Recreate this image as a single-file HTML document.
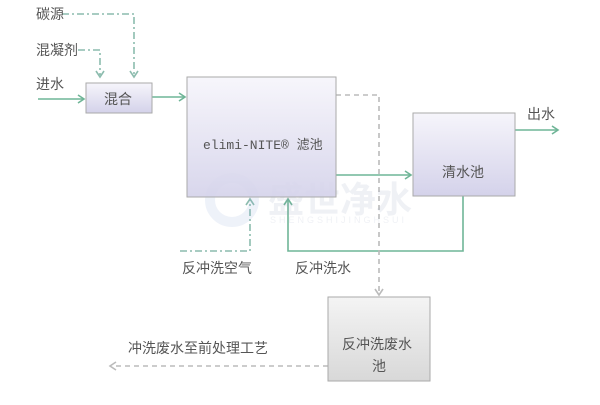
<!DOCTYPE html>
<html><head><meta charset="utf-8"><style>
body{margin:0;width:600px;height:400px;background:#fff;overflow:hidden}
svg text{font-family:"Liberation Sans","Noto Sans CJK SC",sans-serif;fill:#555}
</style></head><body>
<svg width="600" height="400" viewBox="0 0 600 400">
<defs>
<linearGradient id="g" x1="0" y1="0" x2="0" y2="1"><stop offset="0" stop-color="#f6f5fb"/><stop offset="1" stop-color="#d4d2ea"/></linearGradient>
<linearGradient id="gg" x1="0" y1="0" x2="0" y2="1"><stop offset="0" stop-color="#f4f4f4"/><stop offset="1" stop-color="#d8d8d8"/></linearGradient>
</defs>
<g fill="none" stroke-width="1.6">
<g stroke="#6fb597">
<line x1="38" y1="99" x2="84" y2="99"/><polyline points="78,95 84,99 78,103"/>
<line x1="152" y1="97" x2="185" y2="97"/><polyline points="179,93 185,97 179,101"/>
<line x1="336" y1="175" x2="411" y2="175"/><polyline points="405,171 411,175 405,179"/>
<line x1="515" y1="130" x2="558" y2="130"/><polyline points="552,126 558,130 552,134"/>
<polyline points="463,196 463,251 288,251 288,199"/><polyline points="284,205 288,199 292,205"/>
</g>
<g stroke="#8cbcae" stroke-dasharray="7,3,2,3">
<polyline points="62,14 134,14 134,75"/>
<polyline points="78,50 100,50 100,75"/>
<polyline points="180,251 250,251 250,200"/>
</g>
<g stroke="#8cbcae"><polyline points="96,71 100,77 104,71"/><polyline points="130,71 134,77 138,71"/><polyline points="246,205 250,199 254,205"/></g>
<g stroke="#bbb" stroke-dasharray="5,4">
<polyline points="336,95 379,95 379,294"/>
<line x1="328" y1="366" x2="112" y2="366"/>
</g>
<g stroke="#bbb"><polyline points="375,289 379,295 383,289"/><polyline points="116,362 110,366 116,370"/></g>
</g>
<g opacity="0.15">
<circle cx="232" cy="200" r="22" fill="none" stroke="#8fa8d8" stroke-width="10"/>
<text x="268" y="212" font-size="36" font-weight="bold" style="fill:#9aa6c0">盛世净水</text>
<text x="270" y="223" font-size="9" letter-spacing="3" style="fill:#9aa6c0">SHENGSHIJINGHSUI</text>
</g>
<rect x="86" y="83" width="66" height="30" fill="url(#g)" stroke="#aaa"/>
<rect x="187" y="77" width="149" height="120" fill="url(#g)" stroke="#aaa" fill-opacity="0.9"/>
<rect x="413" y="113" width="102" height="83" fill="url(#g)" stroke="#aaa"/>
<rect x="328" y="297" width="102" height="84" fill="url(#gg)" stroke="#aaa"/>
<g font-size="14">
<text x="104" y="104">混合</text>
<text x="203" y="149" font-size="13" style="font-family:'Liberation Mono','Noto Sans CJK SC',monospace">elimi-NITE® 滤池</text>
<text x="442" y="177">清水池</text>
<text x="342" y="349">反冲洗废水</text>
<text x="372" y="371">池</text>
<text x="36" y="19">碳源</text>
<text x="36" y="55">混凝剂</text>
<text x="36" y="89">进水</text>
<text x="527" y="119">出水</text>
<text x="182" y="273">反冲洗空气</text>
<text x="295" y="273">反冲洗水</text>
<text x="128" y="353">冲洗废水至前处理工艺</text>
</g>
</svg>
</body></html>
